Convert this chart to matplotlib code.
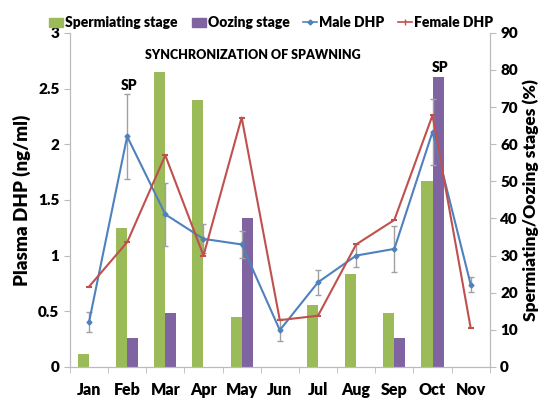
import matplotlib
matplotlib.use("Agg")
import matplotlib.pyplot as plt
import numpy as np
from matplotlib.lines import Line2D
from matplotlib.patches import Patch

months = ["Jan", "Feb", "Mar", "Apr", "May", "Jun", "Jul", "Aug", "Sep", "Oct", "Nov"]
spermiating = [3.5, 37.5, 79.5, 72, 13.5, 0, 16.7, 25, 14.5, 50, 0]
oozing = [0, 7.8, 14.5, 0, 40, 0, 0, 0, 7.8, 78, 0]
male_dhp = [0.40, 2.07, 1.37, 1.15, 1.10, 0.33, 0.76, 1.00, 1.06, 2.11, 0.74]
male_err = [0.09, 0.38, 0.28, 0.13, 0.12, 0.10, 0.11, 0.10, 0.21, 0.30, 0.07]
female_dhp = [0.72, 1.12, 1.90, 1.00, 2.24, 0.42, 0.46, 1.10, 1.32, 2.26, 0.35]

W = 'heavy'
plt.rcParams['font.family'] = ['Lato', 'DejaVu Sans']
plt.rcParams['font.weight'] = W

GREEN = "#9BBB59"
PURPLE = "#8064A2"
BLUE = "#4F81BD"
RED = "#C0504D"
GREY = "#A0A0A0"

fig = plt.figure(figsize=(5.46, 4.01), dpi=100)
ax = fig.add_axes([0.128, 0.085, 0.769, 0.833])
ax2 = ax.twinx()

x = np.arange(len(months))
w = 0.29
ax2.bar(x - w / 2, spermiating, width=w, color=GREEN, zorder=2)
ax2.bar(x + w / 2, oozing, width=w, color=PURPLE, zorder=2)
ax2.set_ylim(0, 90)
ax2.set_yticks(np.arange(0, 91, 10))

ax.set_zorder(ax2.get_zorder() + 1)
ax.patch.set_visible(False)

ax.errorbar(x, male_dhp, yerr=male_err, fmt='none', ecolor=GREY, elinewidth=1.0,
            capsize=2, capthick=1.0, zorder=3)
ax.plot(x, male_dhp, color=BLUE, lw=1.5, marker='D', ms=2.5, zorder=4)
ax.plot(x, female_dhp, color=RED, lw=1.5, marker='_', ms=4, mew=1.5, zorder=4)

ax.set_ylim(0, 3)
ax.set_yticks([0, 0.5, 1, 1.5, 2, 2.5, 3])
ax.set_yticklabels(["0", "0.5", "1", "1.5", "2", "2.5", "3"])
ax.set_xlim(-0.5, len(months) - 0.5)
ax.set_xticks(x)
ax.set_xticklabels(months)
ax.set_xticks(np.arange(-0.5, len(months), 1), minor=True)
ax.tick_params(axis='x', which='major', length=0, pad=11, labelsize=11.5)
ax.tick_params(axis='x', which='minor', length=4, color="#BBBBBB", direction='out')
ax.tick_params(axis='y', length=4, color="#BBBBBB", labelsize=11)
ax2.tick_params(axis='y', length=4, color="#BBBBBB", labelsize=11)

for a in (ax, ax2):
    a.spines['top'].set_visible(False)
    for s in ('left', 'right', 'bottom'):
        a.spines[s].set_color("#BBBBBB")

ax.set_ylabel("Plasma DHP (ng/ml)", fontsize=13.5, fontweight=W, labelpad=5)
ax2.set_ylabel("Spermiating/Oozing stages (%)", fontsize=12.5, fontweight=W, labelpad=3)

ax.text(0.435, 0.935, "SYNCHRONIZATION OF SPAWNING", transform=ax.transAxes,
        ha='center', va='center', fontsize=9, fontweight=W)
ax.text(1.05, 2.47, "SP", ha='center', va='bottom', fontsize=10, fontweight=W)
ax2.text(9.2, 79, "SP", ha='center', va='bottom', fontsize=10, fontweight=W)

handles = [Patch(color=GREEN, label="Spermiating stage"),
           Patch(color=PURPLE, label="Oozing stage"),
           Line2D([], [], color=BLUE, lw=1.2, marker='D', ms=2.5, label="Male DHP"),
           Line2D([], [], color=RED, lw=1.2, marker='|', ms=4, label="Female DHP")]
fig.legend(handles=handles, loc='center', bbox_to_anchor=(0.497, 0.943), ncol=4,
           frameon=False, fontsize=10, handlelength=1.0, handletextpad=0.15,
           columnspacing=1.0, handleheight=0.7)

fig.savefig("out.png", dpi=100)
